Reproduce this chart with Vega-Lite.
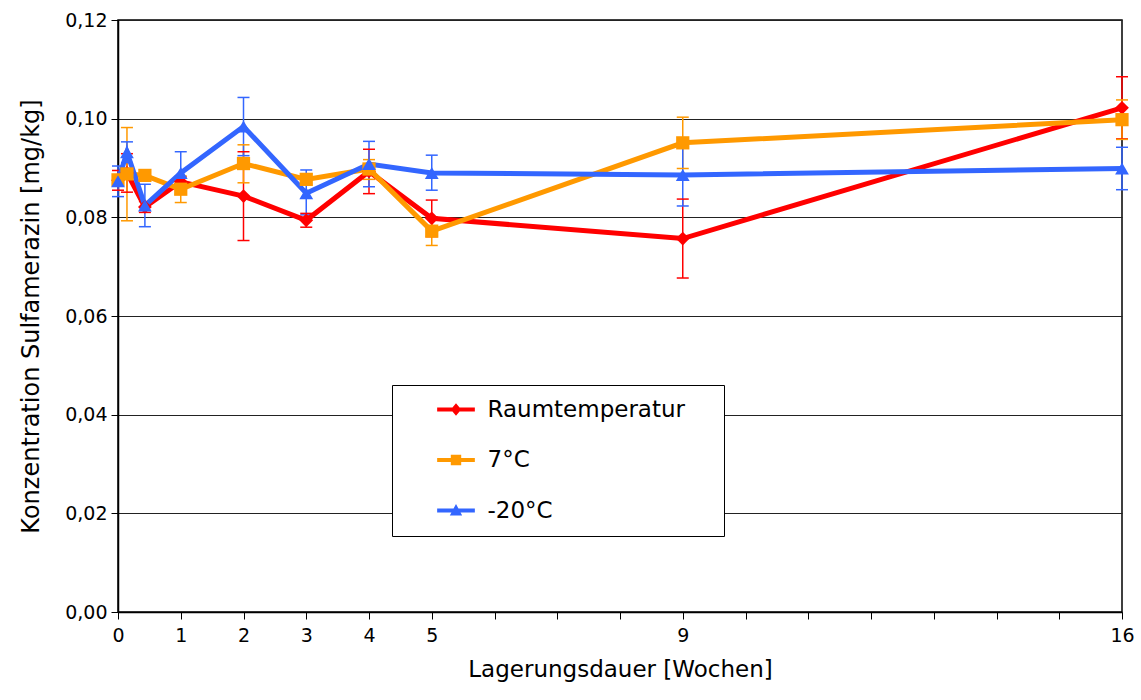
{
  "$schema": "https://vega.github.io/schema/vega-lite/v6.json",
  "autosize": {"type": "none"},
  "padding": {"left": 118, "top": 20, "right": 19, "bottom": 88},
  "width": 1004,
  "height": 592,
  "background": "white",
  "config": {
    "font": "DejaVu Sans",
    "view": {"stroke": "black", "strokeWidth": 1.5}
  },
  "data": {
    "values": [
      {"series": "Raumtemperatur", "week": 0, "value": 0.0875, "lo": 0.0855, "hi": 0.0895},
      {"series": "Raumtemperatur", "week": 0.142857, "value": 0.0890, "lo": 0.0851, "hi": 0.0929},
      {"series": "Raumtemperatur", "week": 0.428571, "value": 0.0821, "lo": 0.0810, "hi": 0.0832},
      {"series": "Raumtemperatur", "week": 1, "value": 0.0872, "lo": 0.0862, "hi": 0.0882},
      {"series": "Raumtemperatur", "week": 2, "value": 0.0843, "lo": 0.0753, "hi": 0.0933},
      {"series": "Raumtemperatur", "week": 3, "value": 0.0794, "lo": 0.0780, "hi": 0.0808},
      {"series": "Raumtemperatur", "week": 4, "value": 0.0893, "lo": 0.0848, "hi": 0.0938},
      {"series": "Raumtemperatur", "week": 5, "value": 0.0798, "lo": 0.0761, "hi": 0.0835},
      {"series": "Raumtemperatur", "week": 9, "value": 0.0757, "lo": 0.0677, "hi": 0.0837},
      {"series": "Raumtemperatur", "week": 16, "value": 0.1022, "lo": 0.0959, "hi": 0.1085},
      {"series": "7°C", "week": 0, "value": 0.0876, "lo": 0.0866, "hi": 0.0886},
      {"series": "7°C", "week": 0.142857, "value": 0.0888, "lo": 0.0793, "hi": 0.0982},
      {"series": "7°C", "week": 0.428571, "value": 0.0885, "lo": 0.0878, "hi": 0.0892},
      {"series": "7°C", "week": 1, "value": 0.0857, "lo": 0.0830, "hi": 0.0884},
      {"series": "7°C", "week": 2, "value": 0.0909, "lo": 0.0870, "hi": 0.0947},
      {"series": "7°C", "week": 3, "value": 0.0877, "lo": 0.0866, "hi": 0.0888},
      {"series": "7°C", "week": 4, "value": 0.0898, "lo": 0.0877, "hi": 0.0917},
      {"series": "7°C", "week": 5, "value": 0.0772, "lo": 0.0743, "hi": 0.0801},
      {"series": "7°C", "week": 9, "value": 0.0951, "lo": 0.0899, "hi": 0.1003},
      {"series": "7°C", "week": 16, "value": 0.0998, "lo": 0.0958, "hi": 0.1038},
      {"series": "-20°C", "week": 0, "value": 0.0873, "lo": 0.0842, "hi": 0.0904},
      {"series": "-20°C", "week": 0.142857, "value": 0.0932, "lo": 0.0911, "hi": 0.0953},
      {"series": "-20°C", "week": 0.428571, "value": 0.0824, "lo": 0.0781, "hi": 0.0867},
      {"series": "-20°C", "week": 1, "value": 0.0890, "lo": 0.0847, "hi": 0.0933},
      {"series": "-20°C", "week": 2, "value": 0.0984, "lo": 0.0925, "hi": 0.1043},
      {"series": "-20°C", "week": 3, "value": 0.0849, "lo": 0.0805, "hi": 0.0896},
      {"series": "-20°C", "week": 4, "value": 0.0908, "lo": 0.0862, "hi": 0.0954},
      {"series": "-20°C", "week": 5, "value": 0.0890, "lo": 0.0855, "hi": 0.0926},
      {"series": "-20°C", "week": 9, "value": 0.0886, "lo": 0.0823, "hi": 0.0949},
      {"series": "-20°C", "week": 16, "value": 0.0899, "lo": 0.0856, "hi": 0.0942}
    ]
  },
  "encoding": {
    "x": {
      "field": "week",
      "type": "quantitative",
      "scale": {"domain": [0, 16], "nice": false, "zero": false},
      "axis": {
        "title": "Lagerungsdauer [Wochen]",
        "values": [0, 1, 2, 3, 4, 5, 6, 7, 8, 9, 10, 11, 12, 13, 14, 15, 16],
        "labelExpr": "indexof([0, 1, 2, 3, 4, 5, 9, 16], datum.value) >= 0 ? datum.label : ''",
        "grid": false,
        "domainColor": "black",
        "domainWidth": 1.5,
        "tickColor": "black",
        "tickWidth": 1,
        "tickSize": 7,
        "labelFont": "DejaVu Sans",
        "labelFontSize": 19,
        "labelColor": "black",
        "labelPadding": 7,
        "labelFlush": false,
        "labelOverlap": false,
        "titleFont": "DejaVu Sans",
        "titleFontSize": 23,
        "titleFontWeight": "normal",
        "titleColor": "black",
        "titlePadding": 13
      }
    },
    "color": {
      "field": "series",
      "type": "nominal",
      "scale": {
        "domain": ["Raumtemperatur", "7°C", "-20°C"],
        "range": ["#ff0000", "#ff9900", "#3366ff"]
      },
      "legend": {
        "title": null,
        "orient": "none",
        "legendX": 274,
        "legendY": 365,
        "padding": 13,
        "fillColor": "white",
        "strokeColor": "black",
        "labelFont": "DejaVu Sans",
        "labelFontSize": 23,
        "labelColor": "black",
        "labelLimit": 400,
        "symbolSize": 169,
        "symbolStrokeWidth": 0,
        "symbolOffset": 39.5,
        "labelOffset": 20,
        "rowPadding": 26.5
      }
    }
  },
  "layer": [
    {
      "mark": {"type": "rule", "strokeWidth": 1.5},
      "encoding": {
        "y": {"field": "lo", "type": "quantitative"},
        "y2": {"field": "hi"}
      }
    },
    {
      "mark": {"type": "tick", "orient": "horizontal", "size": 12, "thickness": 1.5, "opacity": 1},
      "encoding": {
        "y": {"field": "lo", "type": "quantitative"}
      }
    },
    {
      "mark": {"type": "tick", "orient": "horizontal", "size": 12, "thickness": 1.5, "opacity": 1},
      "encoding": {
        "y": {"field": "hi", "type": "quantitative"}
      }
    },
    {
      "mark": {"type": "line", "strokeWidth": 5, "strokeJoin": "miter"},
      "encoding": {
        "y": {
          "field": "value",
          "type": "quantitative",
          "scale": {"domain": [0, 0.12], "nice": false},
          "axis": {
            "title": "Konzentration Sulfamerazin [mg/kg]",
            "values": [0, 0.02, 0.04, 0.06, 0.08, 0.1, 0.12],
            "labelExpr": "replace(format(datum.value, '.2f'), '.', ',')",
            "grid": true,
            "gridColor": "#222222",
            "gridWidth": 1,
            "domainColor": "black",
            "domainWidth": 1.5,
            "tickColor": "black",
            "tickSize": 7,
            "labelFont": "DejaVu Sans",
            "labelFontSize": 19,
            "labelColor": "black",
            "labelPadding": 4,
            "labelFlush": false,
            "titleFont": "DejaVu Sans",
            "titleFontSize": 24,
            "titleFontWeight": "normal",
            "titleColor": "black",
            "titlePadding": 21
          }
        }
      }
    },
    {
      "transform": [{"filter": "datum.series === 'Raumtemperatur'"}],
      "mark": {"type": "point", "shape": "diamond", "filled": true, "opacity": 1, "size": 190},
      "encoding": {
        "y": {"field": "value", "type": "quantitative"}
      }
    },
    {
      "transform": [{"filter": "datum.series === '7°C'"}],
      "mark": {"type": "point", "shape": "square", "filled": true, "opacity": 1, "size": 175},
      "encoding": {
        "y": {"field": "value", "type": "quantitative"}
      }
    },
    {
      "transform": [{"filter": "datum.series === '-20°C'"}],
      "mark": {"type": "point", "shape": "triangle-up", "filled": true, "opacity": 1, "size": 190},
      "encoding": {
        "y": {"field": "value", "type": "quantitative"}
      }
    },
    {
      "transform": [{"filter": "false"}],
      "mark": {"type": "point", "filled": true, "opacity": 1},
      "encoding": {
        "y": {"field": "value", "type": "quantitative"},
        "shape": {
          "field": "series",
          "type": "nominal",
          "scale": {
            "domain": ["Raumtemperatur", "7°C", "-20°C"],
            "range": [
              "M39.1,0M-2.9,-0.3H2.9V0.3H-2.9ZM0,-0.95L0.8,0L0,0.95L-0.8,0Z",
              "M39.1,0M-2.9,-0.3H2.9V0.3H-2.9ZM-0.8,-0.8H0.8V0.8H-0.8Z",
              "M39.1,0M-2.9,-0.3H2.9V0.3H-2.9ZM0,-1L0.95,0.75H-0.95Z"
            ]
          }
        }
      }
    }
  ]
}
